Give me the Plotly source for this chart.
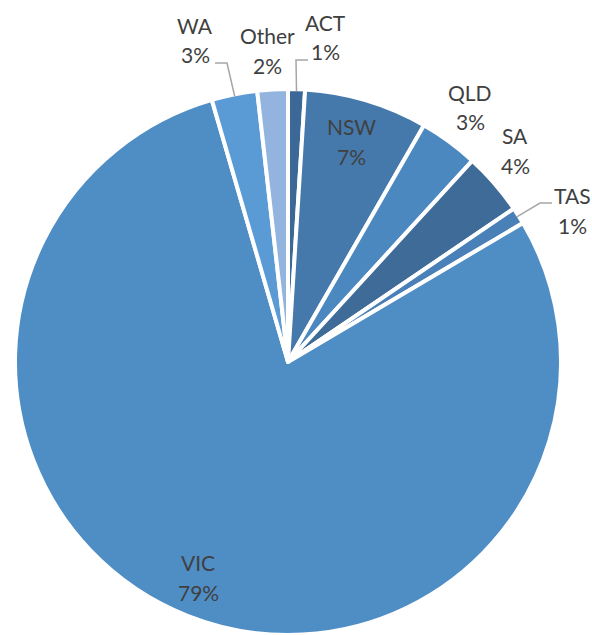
import math
import plotly.graph_objects as go

# ---- data ----
labels = ["ACT", "NSW", "QLD", "SA", "TAS", "VIC", "WA", "Other"]
values = [1.0, 7.3, 3.5, 3.7, 1.0, 79.0, 2.7, 1.8]
pct_text = ["1%", "7%", "3%", "4%", "1%", "79%", "3%", "2%"]
colors = ["#3B6897", "#4579AC", "#4C88C0", "#3E6B97", "#4A80B8", "#4F8DC5", "#5B9BD5", "#93B4DF"]

# label block centres (pixels) – layout only
label_px = {
    "ACT": (325, 37), "NSW": (351, 141), "QLD": (470, 107), "SA": (515, 150),
    "TAS": (572, 210), "VIC": (198, 577), "WA": (195, 40), "Other": (267, 51),
}
# leader line elbows (pixels): (end x near label, elbow x, elbow y)
leaders = {"ACT": (308, 296, 60), "WA": (215, 227, 63), "TAS": (552, 540, 203)}

W, H = 592, 635
cx, cy, R = 288, 362, 273


def px2paper(x, y):
    return x / W, 1 - y / H


fig = go.Figure(go.Pie(
    labels=labels, values=values, sort=False, direction="clockwise", rotation=0,
    marker=dict(colors=colors, line=dict(color="white", width=4)),
    textinfo="none", hoverinfo="label+percent",
    domain=dict(x=[(cx - R) / W, (cx + R) / W], y=[(H - cy - R) / H, (H - cy + R) / H]),
))

font = dict(family="Lato, Carlito, Calibri, sans-serif", size=21, color="#404040")
annotations = []
for lab, pct in zip(labels, pct_text):
    x, y = label_px[lab]
    for txt, dy in ((lab, -15), (pct, 15)):
        px, py = px2paper(x, y + dy)
        annotations.append(dict(x=px, y=py, xref="paper", yref="paper", text=txt,
                                showarrow=False, font=font, xanchor="center", yanchor="middle"))

shapes = []
total = sum(values)
cum = 0.0
for lab, v in zip(labels, values):
    mid = (cum + v / 2) / total * 2 * math.pi
    cum += v
    if lab in leaders:
        ex, bx, by = leaders[lab]
        sx = cx + (R - 2) * math.sin(mid)
        sy = cy - (R - 2) * math.cos(mid)
        pts = [(sx, sy), (bx, by), (ex, by)]
        path = "M " + " L ".join(f"{px2paper(a, b)[0]},{px2paper(a, b)[1]}" for a, b in pts)
        shapes.append(dict(type="path", path=path, xref="paper", yref="paper",
                           line=dict(color="#A6A6A6", width=1.5)))

fig.update_layout(
    width=W, height=H, margin=dict(l=0, r=0, t=0, b=0),
    paper_bgcolor="white", plot_bgcolor="white", showlegend=False,
    annotations=annotations, shapes=shapes,
)
fig.write_html("out.html", config={"displayModeBar": False})

# remove default page margins so the figure sits at the window's top-left corner
with open("out.html", encoding="utf-8") as f:
    html = f.read()
html = html.replace("<head>", "<head><style>html,body{margin:0;padding:0;overflow:hidden;}</style>", 1)
with open("out.html", "w", encoding="utf-8") as f:
    f.write(html)
